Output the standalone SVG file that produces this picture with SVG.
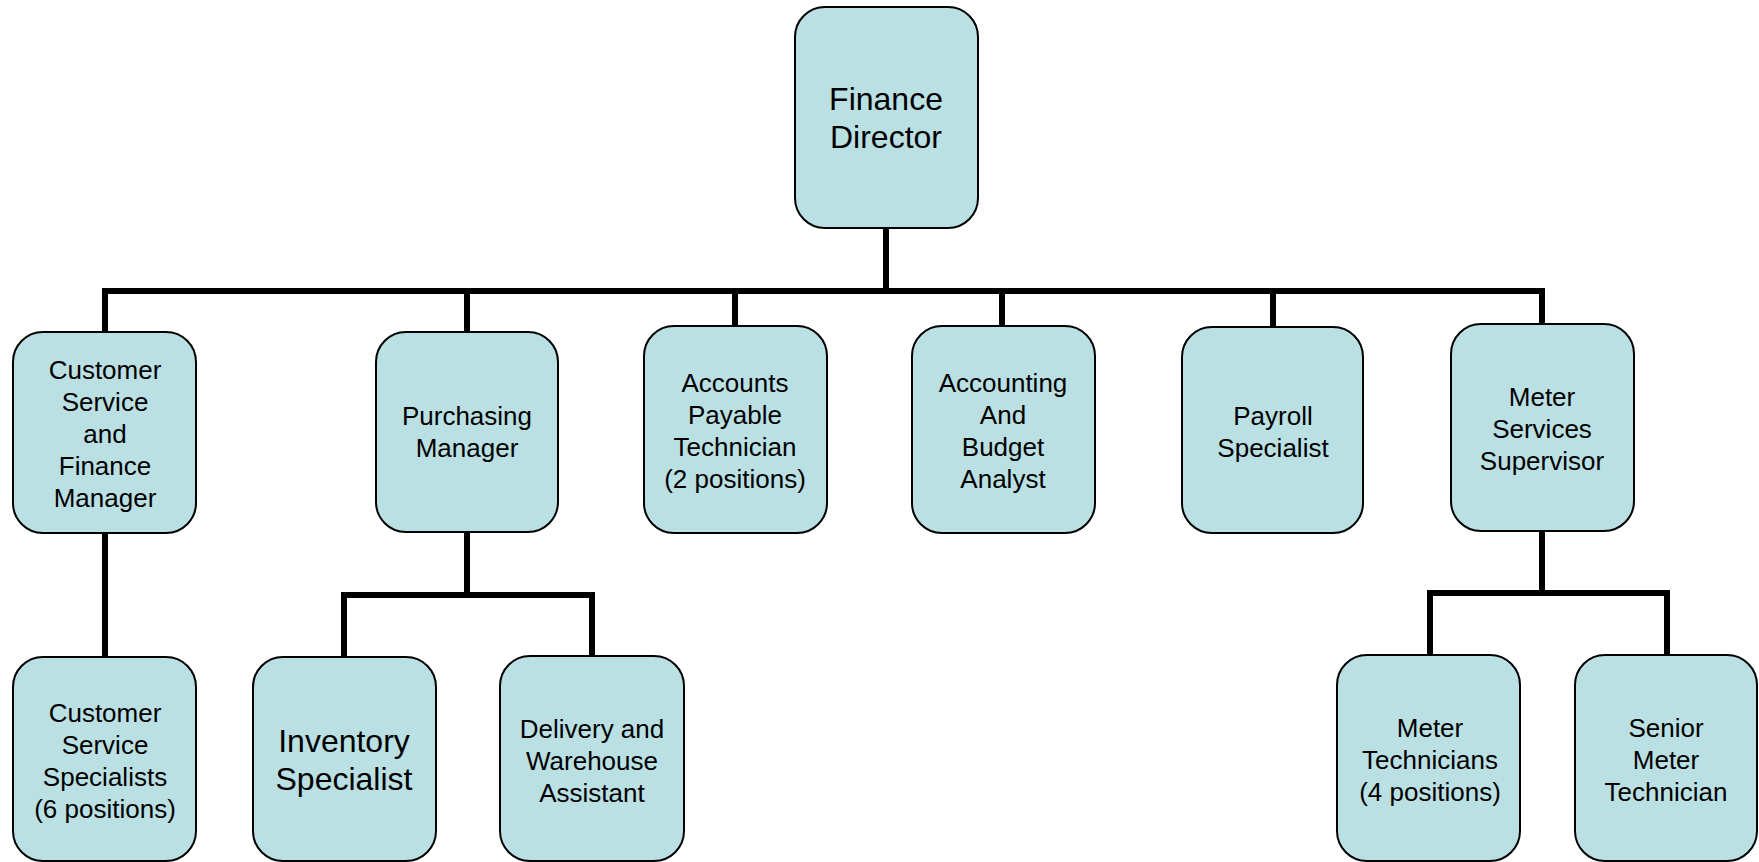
<svg xmlns="http://www.w3.org/2000/svg" width="1759" height="862" viewBox="0 0 1759 862">
<style>
.box{fill:#bae0e3;stroke:#000;stroke-width:2}
.t{font-family:"Liberation Sans",Arial,sans-serif;font-size:26px;fill:#000;text-anchor:middle}
.big{font-size:32px}
.c{fill:none;stroke:#000;stroke-width:6}
</style>
<rect width="1759" height="862" fill="#fff"/>
<g id="connectors">
<path class="c" d="M886 228V291M104 291H1542M105 288V332M467 291V332M735 291V326M1002 291V326M1273 291V327M1542 288V324"/>
<path class="c" d="M105 533V657"/>
<path class="c" d="M467 532V595M344 595H592M344 592V657M592 592V656"/>
<path class="c" d="M1542 531V593M1430 593H1667M1430 590V655M1667 590V655"/>
</g>
<g id="finance-director"><rect class="box" x="795" y="7" width="183" height="221" rx="30"/><text class="t big" x="886"><tspan x="886" y="110">Finance</tspan><tspan x="886" y="148">Director</tspan></text></g>
<g id="cs-finance-manager"><rect class="box" x="13" y="332" width="183" height="201" rx="30"/><text class="t"><tspan x="105" y="379">Customer</tspan><tspan x="105" y="411">Service</tspan><tspan x="105" y="443">and</tspan><tspan x="105" y="475">Finance</tspan><tspan x="105" y="507">Manager</tspan></text></g>
<g id="purchasing-manager"><rect class="box" x="376" y="332" width="182" height="200" rx="30"/><text class="t"><tspan x="467" y="425">Purchasing</tspan><tspan x="467" y="457">Manager</tspan></text></g>
<g id="ap-technician"><rect class="box" x="644" y="326" width="183" height="207" rx="30"/><text class="t"><tspan x="735" y="392">Accounts</tspan><tspan x="735" y="424">Payable</tspan><tspan x="735" y="456">Technician</tspan><tspan x="735" y="488">(2 positions)</tspan></text></g>
<g id="accounting-budget-analyst"><rect class="box" x="912" y="326" width="183" height="207" rx="30"/><text class="t"><tspan x="1003" y="392">Accounting</tspan><tspan x="1003" y="424">And</tspan><tspan x="1003" y="456">Budget</tspan><tspan x="1003" y="488">Analyst</tspan></text></g>
<g id="payroll-specialist"><rect class="box" x="1182" y="327" width="181" height="206" rx="30"/><text class="t"><tspan x="1273" y="425">Payroll</tspan><tspan x="1273" y="457">Specialist</tspan></text></g>
<g id="meter-services-supervisor"><rect class="box" x="1451" y="324" width="183" height="207" rx="30"/><text class="t"><tspan x="1542" y="406">Meter</tspan><tspan x="1542" y="438">Services</tspan><tspan x="1542" y="470">Supervisor</tspan></text></g>
<g id="cs-specialists"><rect class="box" x="13" y="657" width="183" height="204" rx="30"/><text class="t"><tspan x="105" y="722">Customer</tspan><tspan x="105" y="754">Service</tspan><tspan x="105" y="786">Specialists</tspan><tspan x="105" y="818">(6 positions)</tspan></text></g>
<g id="inventory-specialist"><rect class="box" x="253" y="657" width="183" height="204" rx="30"/><text class="t big"><tspan x="344" y="752">Inventory</tspan><tspan x="344" y="790">Specialist</tspan></text></g>
<g id="delivery-warehouse-assistant"><rect class="box" x="500" y="656" width="184" height="205" rx="30"/><text class="t"><tspan x="592" y="738">Delivery and</tspan><tspan x="592" y="770">Warehouse</tspan><tspan x="592" y="802">Assistant</tspan></text></g>
<g id="meter-technicians"><rect class="box" x="1337" y="655" width="183" height="206" rx="30"/><text class="t"><tspan x="1430" y="737">Meter</tspan><tspan x="1430" y="769">Technicians</tspan><tspan x="1430" y="801">(4 positions)</tspan></text></g>
<g id="senior-meter-technician"><rect class="box" x="1575" y="655" width="182" height="206" rx="30"/><text class="t"><tspan x="1666" y="737">Senior</tspan><tspan x="1666" y="769">Meter</tspan><tspan x="1666" y="801">Technician</tspan></text></g>
</svg>
